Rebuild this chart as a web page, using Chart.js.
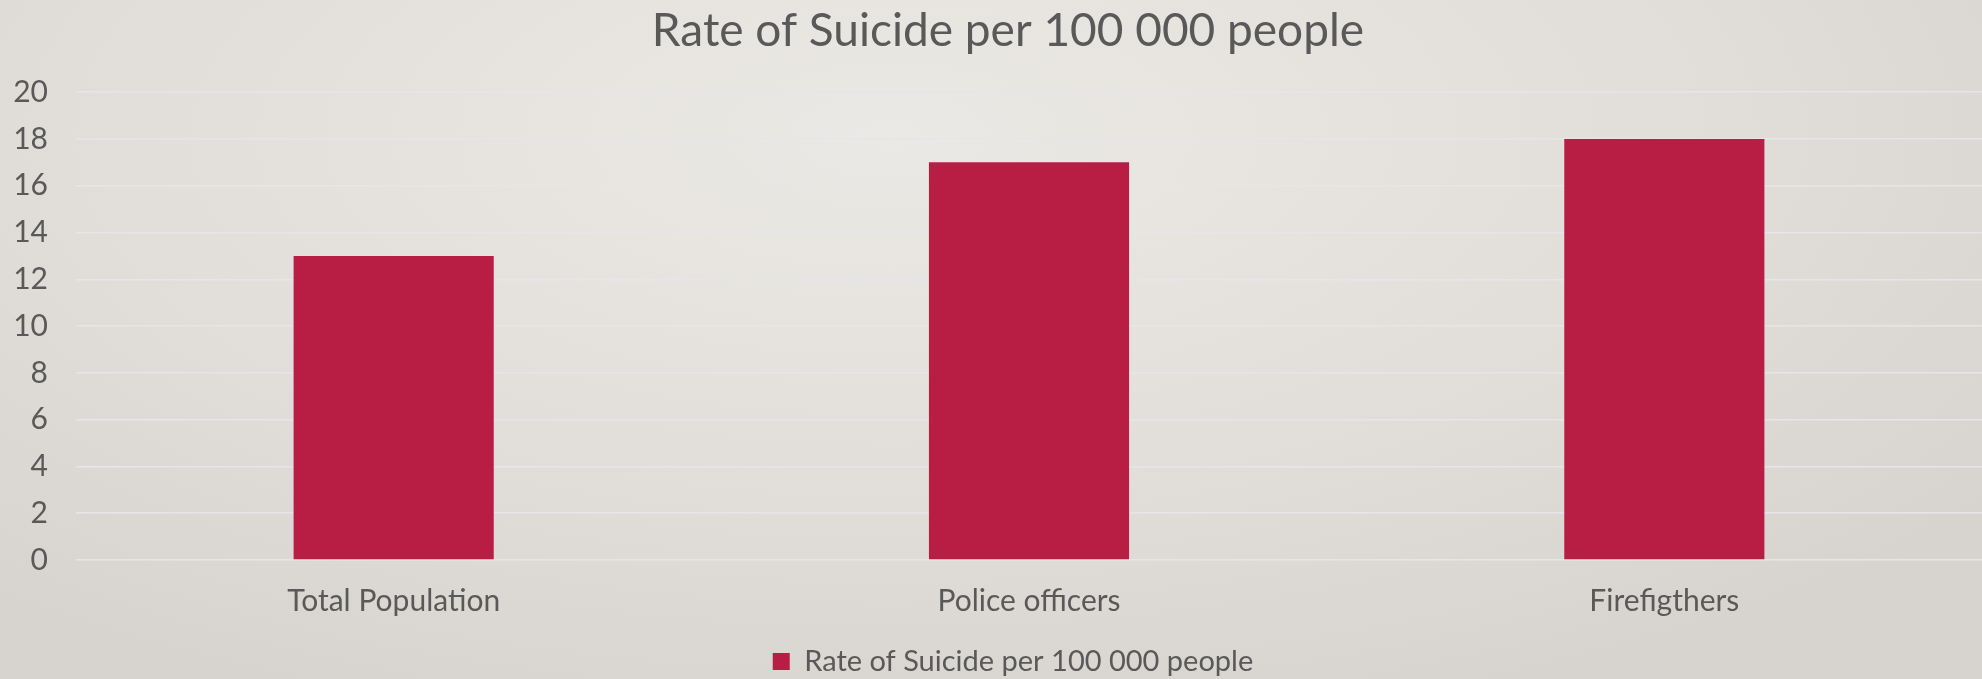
<!DOCTYPE html>
<html>
<head>
<meta charset="utf-8">
<script src="https://cdn.jsdelivr.net/npm/chart.js@4"></script>
<style>
  html, body { margin: 0; padding: 0; }
  body {
    width: 1982px; height: 679px; overflow: hidden;
    background: radial-gradient(ellipse 70% 90% at 45% 20%, #ebe9e5 0%, #e2dfdb 55%, #d7d4cf 100%);
  }
  #wrap { width: 1982px; height: 679px; }
</style>
</head>
<body>
<div id="wrap"><canvas id="suicideChart" width="1982" height="679"></canvas></div>
<script>
// data
const categories = ['Total Population', 'Police officers', 'Firefigthers'];
const seriesName = 'Rate of Suicide per 100 000 people';
const rates = [13, 17, 18];
const yMin = 0;
const yMax = 20;
const yStep = 2;

const textColor = '#595959';
const barColor = '#b81e43';
const fontFamily = 'Lato, "Open Sans", sans-serif';

// title and legend sit a little right of the canvas centre, legend a bit lower
const nudgePlugin = {
    id: 'nudge',
    afterLayout(chart) {
        const t = chart.titleBlock;
        if (t) { t.left += 17; t.right += 17; }
        const l = chart.legend;
        if (l) { l.left += 22; l.right += 22; l.top += 7; l.bottom += 7; }
    }
};

const ctx = document.getElementById('suicideChart').getContext('2d');
const chart = new Chart(ctx, {
    type: 'bar',
    data: {
        labels: categories,
        datasets: [{
            label: seriesName,
            data: rates,
            backgroundColor: barColor,
            borderWidth: 0,
            barPercentage: 0.315,
            categoryPercentage: 1
        }]
    },
    options: {
        responsive: false,
        devicePixelRatio: 1,
        animation: false,
        layout: { padding: 0 },
        plugins: {
            title: {
                display: true,
                text: seriesName,
                color: textColor,
                font: { family: fontFamily, size: 46, weight: 'normal' },
                padding: { top: 4, bottom: 33 }
            },
            legend: {
                position: 'bottom',
                labels: {
                    color: textColor,
                    font: { family: fontFamily, size: 29 },
                    boxWidth: 17,
                    boxHeight: 17,
                    padding: 1
                }
            },
            tooltip: { enabled: false }
        },
        scales: {
            x: {
                grid: { display: false },
                border: { display: false },
                ticks: {
                    color: textColor,
                    font: { family: fontFamily, size: 30 },
                    padding: 15
                },
                afterFit: function (scale) { scale.height = 79; }
            },
            y: {
                min: yMin,
                max: yMax,
                border: { display: false },
                grid: { color: '#e6e6ea', lineWidth: 1.5, drawTicks: false },
                ticks: {
                    stepSize: yStep,
                    color: textColor,
                    font: { family: fontFamily, size: 30 },
                    padding: 28
                },
                afterFit: function (scale) { scale.width = 76; }
            }
        }
    },
    plugins: [nudgePlugin]
});
</script>
</body>
</html>
